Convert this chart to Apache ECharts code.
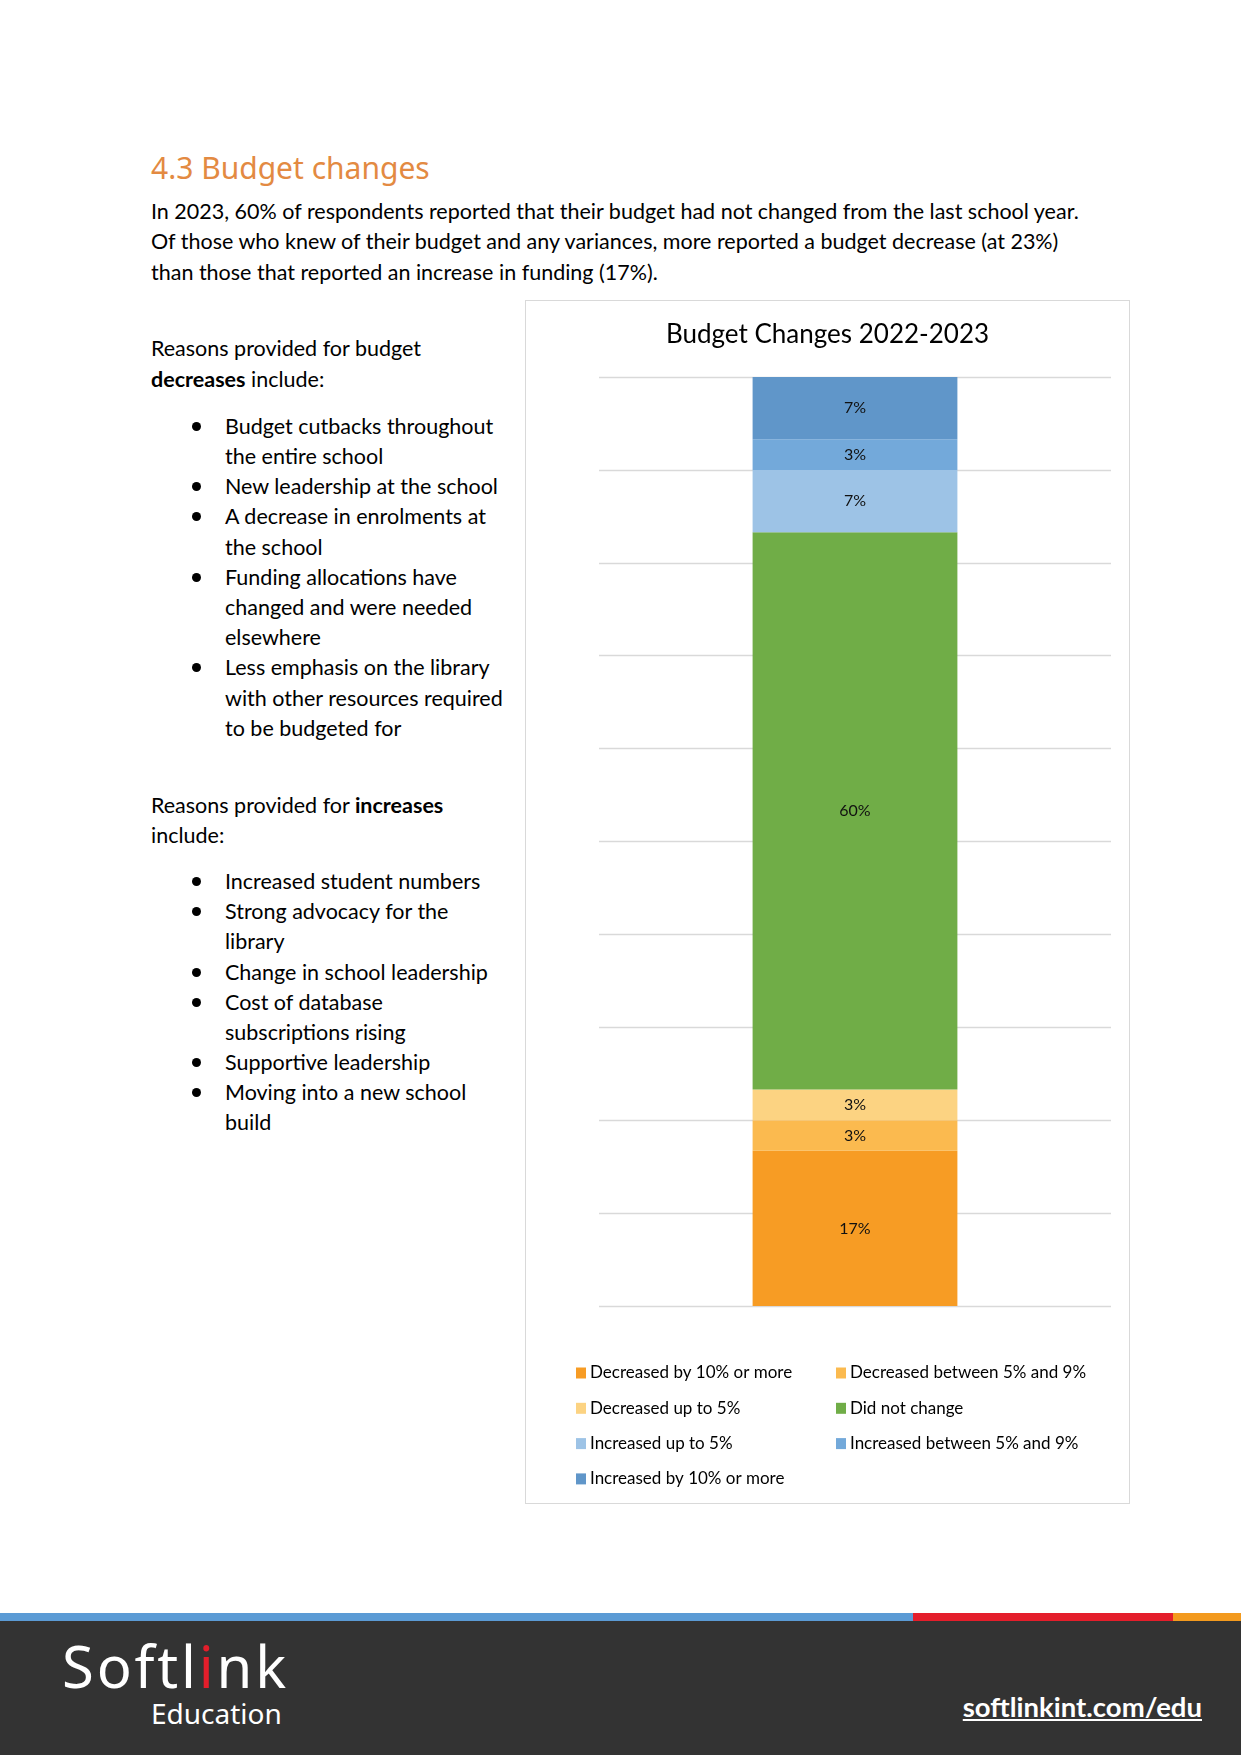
<!DOCTYPE html>
<html>
<head>
<meta charset="utf-8">
<script src="https://cdn.jsdelivr.net/npm/echarts@6/dist/echarts.min.js"></script>
<style>
  html, body { margin:0; padding:0; background:#fff; }
  body { width:1241px; height:1755px; position:relative; overflow:hidden; font-family: Lato, "Noto Sans", sans-serif; color:#000; }
  .ln { position:absolute; height:30px; line-height:30px; font-size:21.5px; white-space:nowrap; }
  .dot { position:absolute; left:-33px; top:10.5px; width:9px; height:9px; border-radius:50%; background:#000; }
  h1 { position:absolute; margin:0; left:151px; top:149px; height:38px; line-height:38px; font-family:"Noto Sans", sans-serif; font-weight:400; font-size:30px; color:#E38A42; white-space:nowrap; }
  #chart { position:absolute; left:525px; top:300px; width:605px; height:1204px; border:1px solid #d9d9d9; box-sizing:border-box; }
  .bar { position:absolute; top:1613px; height:8px; }
  #foot { position:absolute; left:0; top:1621px; width:1241px; height:134px; background:#333333; }
  .logo1 { position:absolute; left:62px; top:1631px; height:70px; line-height:70px; font-family:"Noto Sans", sans-serif; font-size:58px; color:#fff; letter-spacing:2.8px; white-space:nowrap; }
  .logo2 { position:absolute; left:151px; top:1695px; height:36px; line-height:36px; font-family:"Noto Sans", sans-serif; font-size:28px; color:#fff; white-space:nowrap; }
  .url { position:absolute; right:39px; top:1690px; height:34px; line-height:34px; font-family:Lato, sans-serif; font-weight:700; font-size:27.5px; color:#fff; text-decoration:underline; white-space:nowrap; }
</style>
</head>
<body>
<h1>4.3 Budget changes</h1>
<div class="ln" style="left:151px;top:196px">In 2023, 60% of respondents reported that their budget had not changed from the last school year.</div>
<div class="ln" style="left:151px;top:226px">Of those who knew of their budget and any variances, more reported a budget decrease (at 23%)</div>
<div class="ln" style="left:151px;top:257px">than those that reported an increase in funding (17%).</div>

<div class="ln" style="left:151px;top:333px">Reasons provided for budget</div>
<div class="ln" style="left:151px;top:364px"><b>decreases</b> include:</div>
<div class="ln" style="left:225px;top:411px"><span class="dot"></span>Budget cutbacks throughout</div>
<div class="ln" style="left:225px;top:441px">the entire school</div>
<div class="ln" style="left:225px;top:471px"><span class="dot"></span>New leadership at the school</div>
<div class="ln" style="left:225px;top:501px"><span class="dot"></span>A decrease in enrolments at</div>
<div class="ln" style="left:225px;top:532px">the school</div>
<div class="ln" style="left:225px;top:562px"><span class="dot"></span>Funding allocations have</div>
<div class="ln" style="left:225px;top:592px">changed and were needed</div>
<div class="ln" style="left:225px;top:622px">elsewhere</div>
<div class="ln" style="left:225px;top:652px"><span class="dot"></span>Less emphasis on the library</div>
<div class="ln" style="left:225px;top:683px">with other resources required</div>
<div class="ln" style="left:225px;top:713px">to be budgeted for</div>

<div class="ln" style="left:151px;top:790px">Reasons provided for <b>increases</b></div>
<div class="ln" style="left:151px;top:820px">include:</div>
<div class="ln" style="left:225px;top:866px"><span class="dot"></span>Increased student numbers</div>
<div class="ln" style="left:225px;top:896px"><span class="dot"></span>Strong advocacy for the</div>
<div class="ln" style="left:225px;top:926px">library</div>
<div class="ln" style="left:225px;top:957px"><span class="dot"></span>Change in school leadership</div>
<div class="ln" style="left:225px;top:987px"><span class="dot"></span>Cost of database</div>
<div class="ln" style="left:225px;top:1017px">subscriptions rising</div>
<div class="ln" style="left:225px;top:1047px"><span class="dot"></span>Supportive leadership</div>
<div class="ln" style="left:225px;top:1077px"><span class="dot"></span>Moving into a new school</div>
<div class="ln" style="left:225px;top:1107px">build</div>

<div id="chart"></div>

<div class="bar" style="left:0;width:913px;background:#5B9BD5"></div>
<div class="bar" style="left:913px;width:260px;background:#E41E2B"></div>
<div class="bar" style="left:1173px;width:68px;background:#F39A1E"></div>
<div id="foot"></div>
<div class="logo1">Softl<span style="color:#E41E2B">i</span>nk</div>
<div class="logo2">Education</div>
<div class="url">softlinkint.com/edu</div>

<script>
// ---- data ----
const categories = ['Budget Changes 2022-2023'];
const seriesNames = [
  'Decreased by 10% or more',
  'Decreased between 5% and 9%',
  'Decreased up to 5%',
  'Did not change',
  'Increased up to 5%',
  'Increased between 5% and 9%',
  'Increased by 10% or more'
];
const seriesValues = [16.7, 3.3, 3.3, 60.0, 6.7, 3.3, 6.7];
const yTicks = [0, 10, 20, 30, 40, 50, 60, 70, 80, 90, 100];

// ---- styles ----
const seriesColors = ['#F79C24', '#FBBA4F', '#FCD382', '#70AD47', '#9DC3E6', '#73A9DA', '#6096C9'];
const col1 = [seriesNames[0], seriesNames[2], seriesNames[4], seriesNames[6]];
const col2 = [seriesNames[1], seriesNames[3], seriesNames[5]];

const chart = echarts.init(document.getElementById('chart'), null, { renderer: 'canvas' });
const legendCommon = {
  orient: 'vertical',
  top: 1057,
  itemWidth: 10,
  itemHeight: 11,
  itemGap: 15.3,
  icon: 'rect',
  selectedMode: false,
  textStyle: { fontFamily: 'Lato', fontSize: 17, color: '#000', lineHeight: 20, padding: [0, 0, 0, -1] }
};
chart.setOption({
  animation: false,
  textStyle: { fontFamily: 'Lato' },
  title: {
    text: 'Budget Changes 2022-2023',
    left: 'center',
    top: 16,
    textStyle: { fontFamily: 'Lato', fontSize: 26, fontWeight: 'normal', color: '#000' }
  },
  legend: [
    Object.assign({}, legendCommon, { left: 45, data: col1 }),
    Object.assign({}, legendCommon, { left: 305, data: col2 })
  ],
  grid: { left: 73, right: 18, top: 76, bottom: 197, containLabel: false },
  xAxis: {
    type: 'category',
    data: categories,
    axisLine: { show: false },
    axisTick: { show: false },
    axisLabel: { show: false }
  },
  yAxis: {
    type: 'value',
    min: yTicks[0],
    max: yTicks[yTicks.length - 1],
    interval: yTicks[1] - yTicks[0],
    axisLabel: { show: false },
    axisLine: { show: false },
    axisTick: { show: false },
    splitLine: { lineStyle: { color: '#d9d9d9', width: 1.3 } }
  },
  series: seriesNames.map((name, i) => ({
    name: name,
    type: 'bar',
    stack: 'total',
    barWidth: '40%',
    data: [seriesValues[i]],
    itemStyle: { color: seriesColors[i] },
    label: {
      show: true,
      position: 'inside',
      fontFamily: 'Lato',
      fontSize: 16,
      color: '#111',
      formatter: p => Math.round(p.value) + '%'
    }
  }))
});
</script>
</body>
</html>
